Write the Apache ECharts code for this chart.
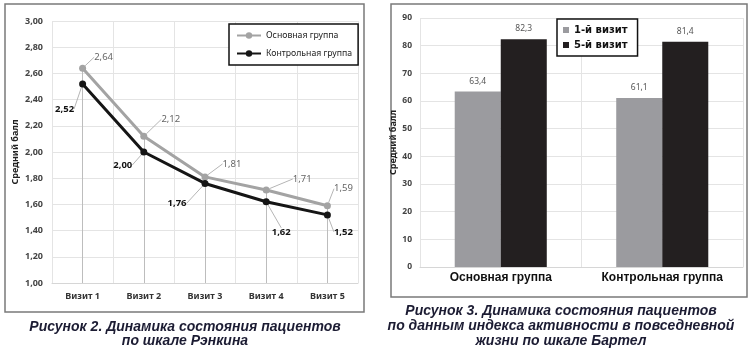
<!DOCTYPE html>
<html>
<head>
<meta charset="utf-8">
<title>Динамика состояния пациентов</title>
<script src="https://cdn.jsdelivr.net/npm/echarts@6/dist/echarts.min.js"></script>
<style>
  html, body { margin: 0; padding: 0; background: #fff; }
  #chart { width: 751px; height: 351px; }
</style>
</head>
<body>
<div id="chart"></div>
<script>
// Рисунок 2 — шкала Рэнкина
const visits = ["Визит 1", "Визит 2", "Визит 3", "Визит 4", "Визит 5"];
const mainGroup = [2.64, 2.12, 1.81, 1.71, 1.59];
const controlGroup = [2.52, 2.00, 1.76, 1.62, 1.52];
const rankinTicks = { min: 1, max: 3, step: 0.2 };

// Рисунок 3 — индекс Бартел
const groups = ["Основная группа", "Контрольная группа"];
const firstVisit = [63.4, 61.1];
const fifthVisit = [82.3, 81.4];
const barthelTicks = { min: 0, max: 90, step: 10 };

// label offsets from the point (Excel-style moved labels with leader lines)
const mainShift = [[21, -11], [27, -17], [27, -13], [36, -11], [16, -17]];
const controlShift = [[-18, 25], [-21, 13], [-28, 20], [15, 31], [16, 17]];

const comma = (v, d) => Number(v).toFixed(d).replace(".", ",");
const font = "Noto Sans";

function shifted(shift) {
  return function (p) {
    const r = p.rect || p.labelRect;
    const s = shift[p.dataIndex];
    return {
      x: r.x + r.width / 2 + s[0],
      y: r.y + r.height / 2 + s[1],
      align: "center",
      verticalAlign: "middle"
    };
  };
}

const chart = echarts.init(document.getElementById("chart"));

const option = {
  animation: false,
  textStyle: { fontFamily: font },
  legend: [
    {
      data: ["Основная группа", "Контрольная группа"],
      orient: "vertical",
      left: 229,
      top: 24,
      padding: [7, 6, 7, 7],
      itemGap: 9,
      itemWidth: 24,
      itemHeight: 8,
      backgroundColor: "#fff",
      borderColor: "#111",
      borderWidth: 1.5,
      textStyle: { fontFamily: font, fontSize: 8.7, color: "#222" }
    },
    {
      data: ["1-й визит", "5-й визит"],
      orient: "vertical",
      left: 557,
      top: 19,
      padding: [6, 10, 6, 6],
      itemGap: 5,
      itemWidth: 6,
      itemHeight: 6,
      icon: "rect",
      backgroundColor: "#fff",
      borderColor: "#111",
      borderWidth: 1.5,
      textStyle: { fontFamily: "DejaVu Sans", fontWeight: "bold", fontSize: 10, color: "#111" }
    }
  ],
  grid: [
    { left: 52, top: 21, width: 306, height: 262 },
    { left: 420, top: 18, width: 323, height: 249 }
  ],
  xAxis: [
    {
      type: "category",
      gridIndex: 0,
      data: visits,
      boundaryGap: true,
      axisTick: { show: false },
      axisLine: { lineStyle: { color: "#d6d6d6" } },
      splitLine: { show: true, lineStyle: { color: "#e4e4e4" } },
      axisLabel: { fontFamily: font, fontSize: 9, fontWeight: "bold", color: "#333", margin: 9, interval: 0 }
    },
    {
      type: "category",
      gridIndex: 1,
      data: groups,
      boundaryGap: true,
      axisTick: { show: false },
      axisLine: { lineStyle: { color: "#d6d6d6" } },
      splitLine: { show: true, lineStyle: { color: "#e4e4e4" } },
      axisLabel: {
        fontFamily: "Liberation Sans", fontSize: 12, fontWeight: "bold", color: "#111",
        margin: 5, interval: 0
      }
    }
  ],
  yAxis: [
    {
      type: "value",
      gridIndex: 0,
      min: rankinTicks.min,
      max: rankinTicks.max,
      interval: rankinTicks.step,
      name: "Средний балл",
      nameLocation: "middle",
      nameGap: 32,
      nameTextStyle: { fontFamily: font, fontSize: 9, fontWeight: "bold", color: "#222" },
      axisLine: { show: false },
      axisTick: { show: false },
      splitLine: { lineStyle: { color: "#e4e4e4" } },
      axisLabel: {
        fontFamily: font, fontSize: 9, fontWeight: "bold", color: "#444", margin: 9,
        formatter: v => comma(v, 2)
      }
    },
    {
      type: "value",
      gridIndex: 1,
      min: barthelTicks.min,
      max: barthelTicks.max,
      interval: barthelTicks.step,
      name: "Средний балл",
      nameLocation: "middle",
      nameGap: 14,
      nameTextStyle: { fontFamily: font, fontSize: 9, fontWeight: "bold", color: "#222" },
      axisLine: { show: false },
      axisTick: { show: false },
      splitLine: { lineStyle: { color: "#e4e4e4" } },
      axisLabel: { fontFamily: font, fontSize: 8.5, fontWeight: "bold", color: "#444", margin: 8 }
    }
  ],
  series: [
    {
      name: "Основная группа",
      type: "line",
      xAxisIndex: 0,
      yAxisIndex: 0,
      data: mainGroup,
      symbol: "circle",
      symbolSize: 7,
      z: 3,
      itemStyle: { color: "#a3a3a3" },
      lineStyle: { color: "#a3a3a3", width: 3 },
      label: {
        show: true,
        fontFamily: font,
        fontSize: 9.5,
        color: "#666",
        formatter: p => comma(p.value, 2)
      },
      labelLine: { show: true, lineStyle: { color: "#b5b5b5", width: 1 } },
      labelLayout: shifted(mainShift),
      markLine: {
        silent: true,
        symbol: "none",
        z: 1,
        label: { show: false },
        lineStyle: { color: "#bdbdbd", width: 1, type: "solid" },
        data: mainGroup.map((v, i) => [
          { coord: [i, v] },
          { coord: [i, rankinTicks.min] }
        ])
      }
    },
    {
      name: "Контрольная группа",
      type: "line",
      xAxisIndex: 0,
      yAxisIndex: 0,
      data: controlGroup,
      symbol: "circle",
      symbolSize: 7,
      z: 4,
      itemStyle: { color: "#151515" },
      lineStyle: { color: "#151515", width: 3 },
      label: {
        show: true,
        fontFamily: font,
        fontSize: 9.5,
        fontWeight: "bold",
        color: "#111",
        formatter: p => comma(p.value, 2)
      },
      labelLine: { show: true, lineStyle: { color: "#b5b5b5", width: 1 } },
      labelLayout: shifted(controlShift)
    },
    {
      name: "1-й визит",
      type: "bar",
      xAxisIndex: 1,
      yAxisIndex: 1,
      data: firstVisit,
      barWidth: "28.5%",
      barGap: "0%",
      itemStyle: { color: "#9b9b9f" },
      label: {
        show: true, position: "top", distance: 6,
        fontFamily: font, fontSize: 8.5, color: "#555",
        formatter: p => comma(p.value, 1)
      }
    },
    {
      name: "5-й визит",
      type: "bar",
      xAxisIndex: 1,
      yAxisIndex: 1,
      data: fifthVisit,
      barWidth: "28.5%",
      barGap: "0%",
      itemStyle: { color: "#231f20" },
      label: {
        show: true, position: "top", distance: 6,
        fontFamily: font, fontSize: 8.5, color: "#555",
        formatter: p => comma(p.value, 1)
      }
    }
  ],
  graphic: [
    {
      type: "rect",
      shape: { x: 5, y: 4, width: 359, height: 308 },
      style: { fill: null, stroke: "#7a7a7a", lineWidth: 1.5 },
      silent: true, z: -1
    },
    {
      type: "rect",
      shape: { x: 391, y: 4, width: 356, height: 293 },
      style: { fill: null, stroke: "#7a7a7a", lineWidth: 1.5 },
      silent: true, z: -1
    },
    {
      type: "text",
      x: 185,
      y: 320,
      style: {
        text: "Рисунок 2. Динамика состояния пациентов\nпо шкале Рэнкина",
        textAlign: "center",
        fill: "#1c1c33",
        font: "italic bold 14px 'Liberation Sans'",
        lineHeight: 14
      }
    },
    {
      type: "text",
      x: 561,
      y: 304,
      style: {
        text: "Рисунок 3. Динамика состояния пациентов\nпо данным индекса активности в повседневной\nжизни по шкале Бартел",
        textAlign: "center",
        fill: "#1c1c33",
        font: "italic bold 14px 'Liberation Sans'",
        lineHeight: 15
      }
    }
  ]
};

chart.setOption(option);
window.addEventListener("resize", () => chart.resize());
</script>
</body>
</html>
